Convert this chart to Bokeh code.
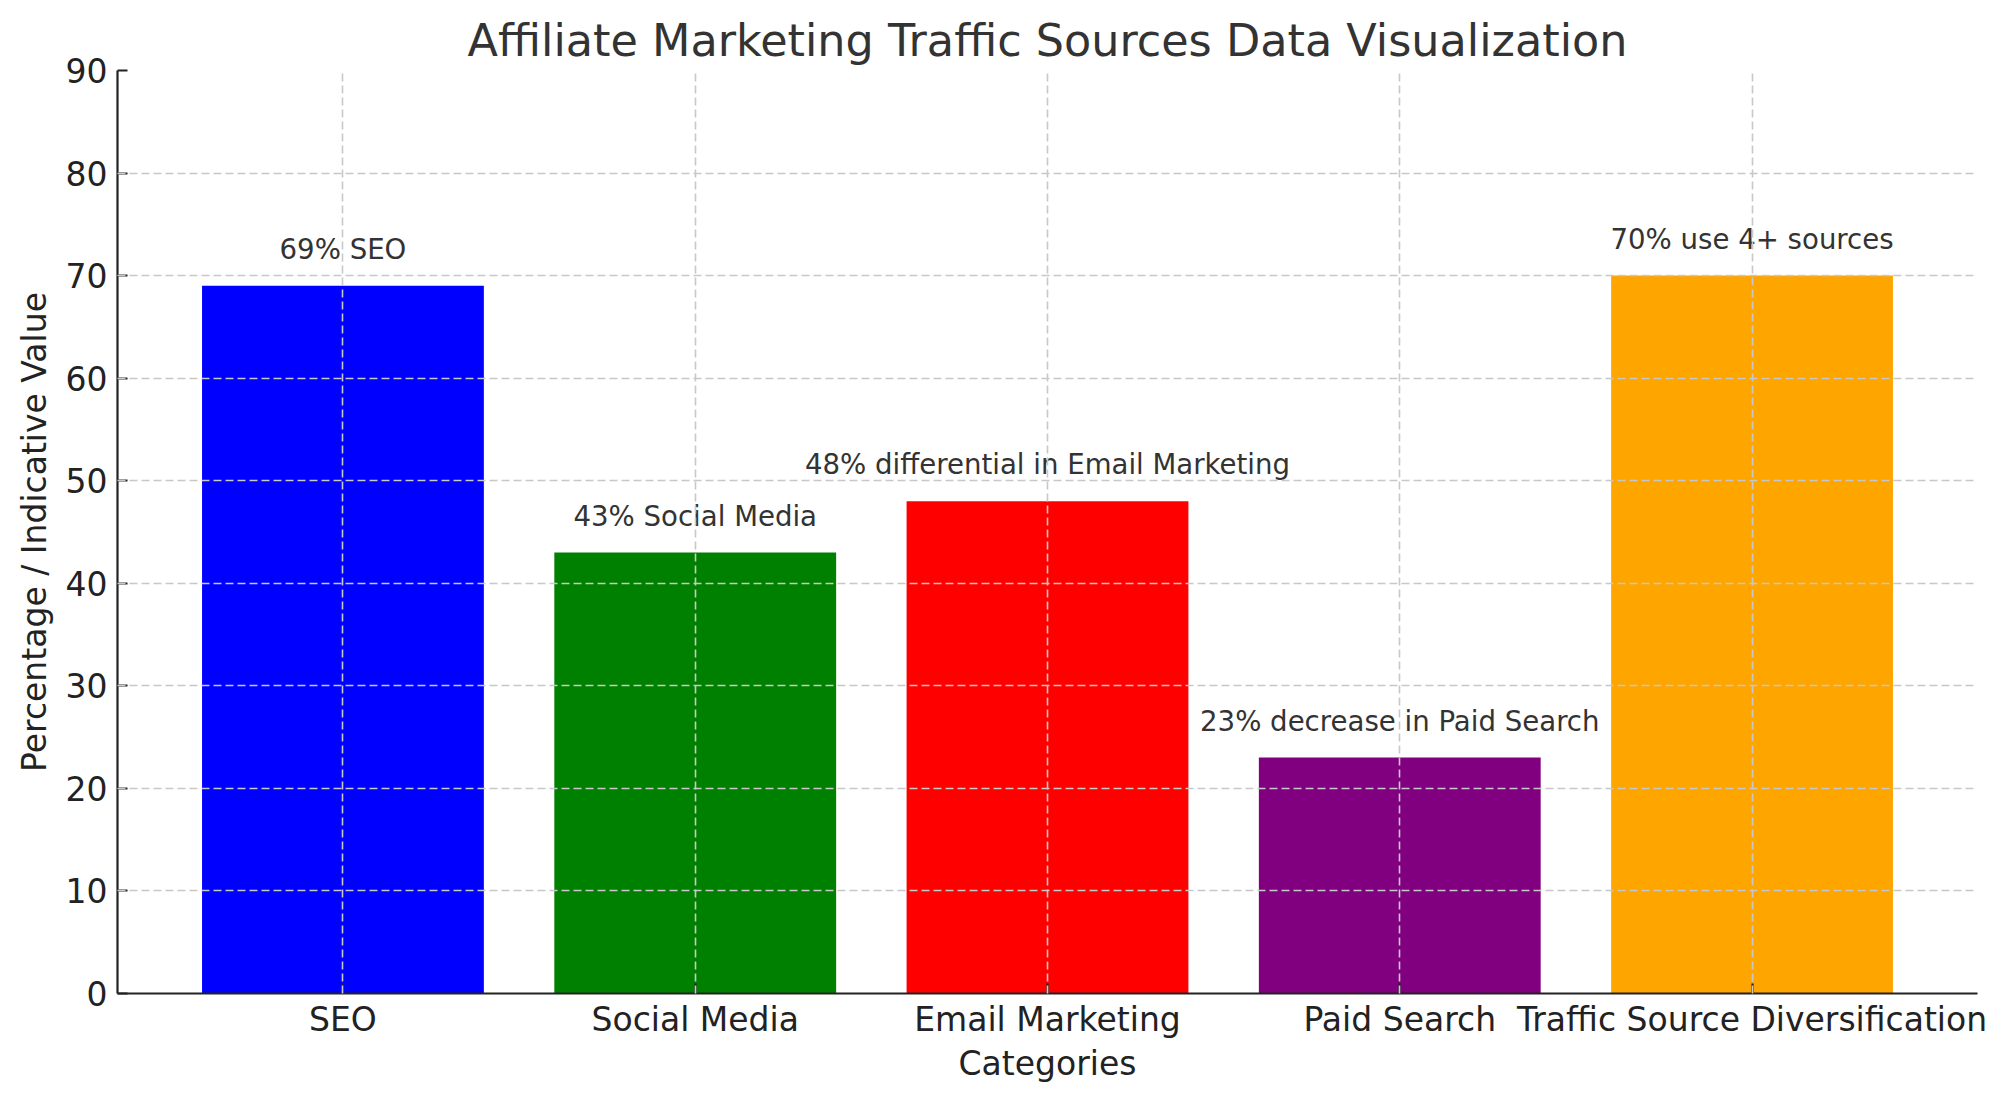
from bokeh.plotting import figure
from bokeh.models import ColumnDataSource, Range1d, FixedTicker, SingleIntervalTicker
from bokeh.core.properties import value
from bokeh.embed import file_html
from bokeh.resources import INLINE

categories = ["SEO", "Social Media", "Email Marketing", "Paid Search", "Traffic Source Diversification"]
values = [69, 43, 48, 23, 70]
colors = ["blue", "green", "red", "purple", "orange"]
annotations = ["69% SEO", "43% Social Media", "48% differential in Email Marketing",
               "23% decrease in Paid Search", "70% use 4+ sources"]
title = "Affiliate Marketing Traffic Sources Data Visualization"
x_label = "Categories"
y_label = "Percentage / Indicative Value"

idx = list(range(len(categories)))
src = ColumnDataSource(dict(x=idx, top=values, color=colors, note=annotations))

FONT = "DejaVu Sans"

p = figure(width=2009, height=1101, output_backend="svg", toolbar_location=None,
           x_range=Range1d(-0.64, len(categories) - 1 + 0.64), y_range=Range1d(0, 90),
           min_border_left=117, min_border_right=32, min_border_top=70, min_border_bottom=108)
p.outline_line_color = None
p.background_fill_color = "white"
p.border_fill_color = "white"

p.title.text = title
p.title.align = "center"
p.title.text_font = FONT
p.title.text_font_size = "44.5px"
p.title.text_font_style = "normal"
p.title.text_color = "#333333"
p.title.standoff = 10

p.vbar(x="x", top="top", width=0.8, fill_color="color", line_color=None, source=src)

p.text(x="x", y="top", text="note", source=src, text_align="center", text_baseline="bottom",
       y_offset=-20, text_font=value(FONT), text_font_size="27.6px", text_color="#333333")

for ax in (p.xaxis[0], p.yaxis[0]):
    ax.axis_line_color = "#222222"
    ax.axis_line_width = 2.2
    ax.major_tick_line_color = "#222222"
    ax.major_tick_line_width = 2.2
    ax.major_tick_in = 10
    ax.major_tick_out = 0
    ax.minor_tick_line_color = None
    ax.major_label_text_font = FONT
    ax.major_label_text_font_size = "33px"
    ax.major_label_text_color = "#222222"
    ax.axis_label_text_font = FONT
    ax.axis_label_text_font_size = "33px"
    ax.axis_label_text_font_style = "normal"
    ax.axis_label_text_color = "#222222"
    ax.major_label_standoff = 10

p.xaxis[0].ticker = FixedTicker(ticks=idx)
p.xaxis[0].major_label_overrides = {i: c for i, c in zip(idx, categories)}
p.xaxis[0].axis_label = x_label
p.xaxis[0].major_label_standoff = 6
p.xaxis[0].axis_label_standoff = 2

p.yaxis[0].ticker = SingleIntervalTicker(interval=10, num_minor_ticks=0)
p.yaxis[0].axis_label = y_label
p.yaxis[0].axis_label_standoff = 9

for g in (p.xgrid[0], p.ygrid[0]):
    g.grid_line_color = "#c8c8c8"
    g.grid_line_dash = "8 4"
    g.grid_line_width = 1.6
    g.level = "guide"
p.xgrid[0].ticker = FixedTicker(ticks=idx)

open("out.html", "w").write(file_html(p, INLINE))
